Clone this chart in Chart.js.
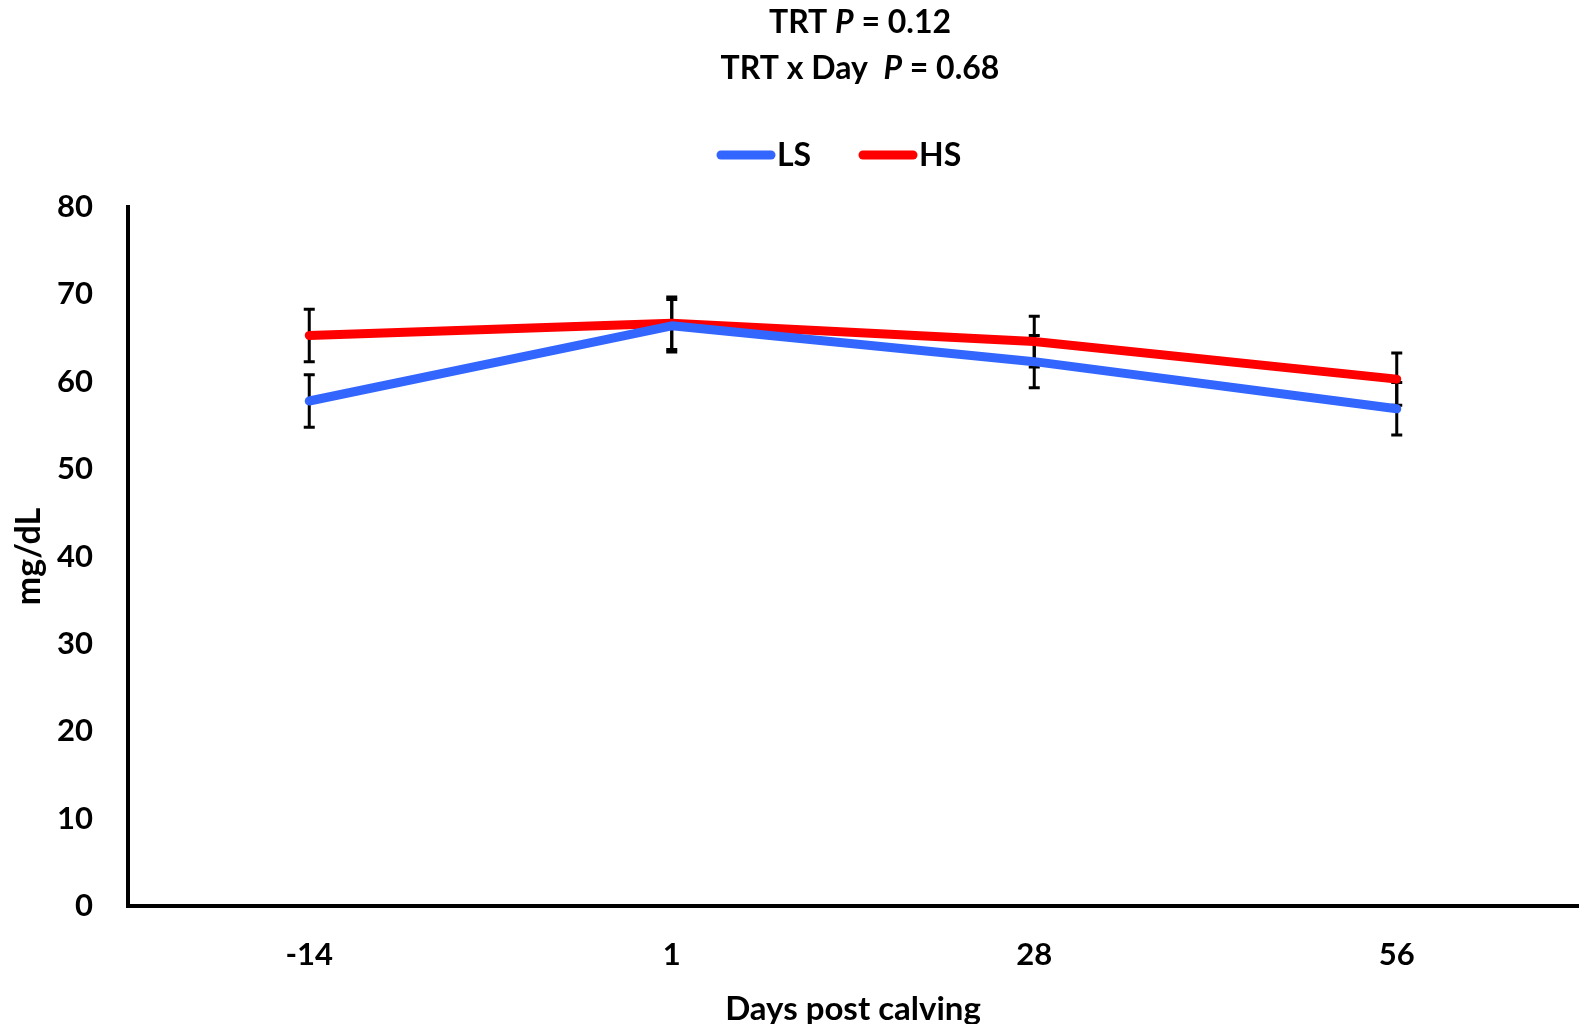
<!DOCTYPE html>
<html>
<head>
<meta charset="utf-8">
<script src="https://cdn.jsdelivr.net/npm/chart.js@4.4.1/dist/chart.umd.min.js"></script>
<style>
  html, body { margin: 0; padding: 0; background: #fff; }
  #wrap { width: 1588px; height: 1024px; }
</style>
</head>
<body>
<div id="wrap"><canvas id="chartContainer" width="1588" height="1024"></canvas></div>
<script>
const days = ['-14', '1', '28', '56'];
const lsMeans = [57.8, 66.4, 62.3, 56.9];
const hsMeans = [65.3, 66.7, 64.6, 60.3];
const lsSE = [3.0, 3.0, 3.0, 3.0];
const hsSE = [3.0, 3.0, 2.9, 3.0];
const yTicks = [0, 10, 20, 30, 40, 50, 60, 70, 80];

const FONT = 'Lato';

// draws a line of text made of plain and italic pieces, centred on cx
function drawMixed(ctx, parts, cx, cy, size) {
    let total = 0;
    parts.forEach(p => {
        ctx.font = (p.italic ? 'italic ' : '') + 'bold ' + size + 'px ' + FONT;
        p.w = ctx.measureText(p.text).width;
        total += p.w;
    });
    let x = cx - total / 2;
    parts.forEach(p => {
        ctx.font = (p.italic ? 'italic ' : '') + 'bold ' + size + 'px ' + FONT;
        ctx.fillText(p.text, x, cy);
        x += p.w;
    });
}

// header text and legend above the plot
const headerPlugin = {
    id: 'header',
    afterDraw(chart) {
        const ctx = chart.ctx;
        ctx.save();
        ctx.fillStyle = '#000';
        ctx.textAlign = 'left';
        ctx.textBaseline = 'middle';
        drawMixed(ctx, [{text: 'TRT '}, {text: 'P', italic: true}, {text: ' = 0.12'}], 860, 23, 32);
        drawMixed(ctx, [{text: 'TRT x Day  '}, {text: 'P', italic: true}, {text: ' = 0.68'}], 860, 69, 32);

        const items = [
            {x: 717, label: 'LS', color: chart.data.datasets[0].borderColor},
            {x: 859, label: 'HS', color: chart.data.datasets[1].borderColor}
        ];
        items.forEach(it => {
            ctx.strokeStyle = it.color;
            ctx.lineWidth = 9;
            ctx.lineCap = 'round';
            ctx.beginPath();
            ctx.moveTo(it.x + 4, 155);
            ctx.lineTo(it.x + 54, 155);
            ctx.stroke();
            ctx.font = 'bold 32px ' + FONT;
            ctx.fillText(it.label, it.x + 60, 156);
        });
        ctx.restore();
    }
};

// standard error bars, drawn under the lines
const errorBarPlugin = {
    id: 'errorBars',
    beforeDatasetsDraw(chart) {
        const ctx = chart.ctx;
        const xs = chart.scales.x;
        const ys = chart.scales.y;
        const series = [[lsMeans, lsSE], [hsMeans, hsSE]];
        ctx.save();
        ctx.strokeStyle = '#000';
        ctx.lineWidth = 3;
        ctx.lineCap = 'butt';
        series.forEach(([means, se]) => {
            means.forEach((m, i) => {
                const x = xs.getPixelForValue(i);
                const yTop = ys.getPixelForValue(m + se[i]);
                const yBot = ys.getPixelForValue(m - se[i]);
                ctx.beginPath();
                ctx.moveTo(x, yTop);
                ctx.lineTo(x, yBot);
                ctx.moveTo(x - 5.5, yTop);
                ctx.lineTo(x + 5.5, yTop);
                ctx.moveTo(x - 5.5, yBot);
                ctx.lineTo(x + 5.5, yBot);
                ctx.stroke();
            });
        });
        ctx.restore();
    }
};

const ctx = document.getElementById('chartContainer').getContext('2d');

new Chart(ctx, {
    type: 'line',
    data: {
        labels: days,
        datasets: [{
            label: 'LS',
            data: lsMeans,
            borderColor: '#3366ff',
            backgroundColor: '#3366ff',
            borderWidth: 9,
            borderCapStyle: 'round',
            borderJoinStyle: 'round',
            pointRadius: 0,
            tension: 0
        }, {
            label: 'HS',
            data: hsMeans,
            borderColor: '#ff0000',
            backgroundColor: '#ff0000',
            borderWidth: 9,
            borderCapStyle: 'round',
            borderJoinStyle: 'round',
            pointRadius: 0,
            tension: 0
        }]
    },
    options: {
        responsive: false,
        animation: false,
        layout: {
            padding: { top: 207, right: 10, left: 0, bottom: 0 }
        },
        plugins: {
            legend: { display: false },
            title: { display: false },
            tooltip: { enabled: false }
        },
        scales: {
            x: {
                type: 'category',
                offset: true,
                grid: { display: false, drawTicks: false },
                border: { display: true, color: '#000', width: 4 },
                ticks: {
                    color: '#000',
                    padding: 30,
                    font: { family: FONT, weight: 'bold', size: 31 }
                },
                title: {
                    display: true,
                    text: 'Days post calving',
                    color: '#000',
                    font: { family: FONT, weight: 'bold', size: 33, lineHeight: 0.9 },
                    padding: { top: 0, bottom: 0 }
                },
                afterFit(scale) {
                    scale.height = 118;
                }
            },
            y: {
                min: 0,
                max: 80,
                afterBuildTicks(scale) {
                    scale.ticks = yTicks.map(v => ({ value: v }));
                },
                grid: { display: false, drawTicks: false },
                border: { display: true, color: '#000', width: 4 },
                ticks: {
                    color: '#000',
                    padding: 35,
                    font: { family: FONT, weight: 'bold', size: 31 }
                },
                title: {
                    display: true,
                    text: 'mg/dL',
                    color: '#000',
                    font: { family: FONT, weight: 'bold', size: 34, lineHeight: 1 },
                    padding: { top: 12, bottom: 0 }
                },
                afterFit(scale) {
                    scale.width = 128;
                }
            }
        }
    },
    plugins: [errorBarPlugin, headerPlugin]
});
</script>
</body>
</html>
